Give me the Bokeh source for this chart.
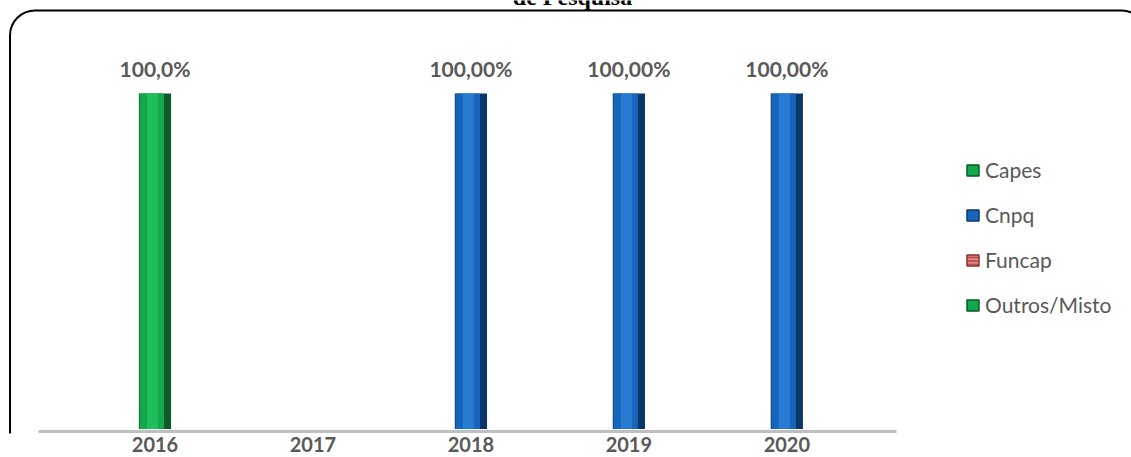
from bokeh.plotting import figure
from bokeh.models import (ColumnDataSource, Range1d, Legend, LegendItem,
                          Label, BoxAnnotation, FixedTicker)
from bokeh.transform import dodge
from bokeh.core.properties import value
from bokeh.embed import file_html
from bokeh.resources import INLINE

# ---- data ----
years = ["2016", "2017", "2018", "2019", "2020"]
capes = [100, 0, 0, 0, 0]
cnpq = [0, 0, 100, 100, 100]
funcap = [0, 0, 0, 0, 0]
outros = [0, 0, 0, 0, 0]
bar_labels = ["100,0%", "", "100,00%", "100,00%", "100,00%"]
series_names = ["Capes", "Cnpq", "Funcap", "Outros/Misto"]
title_text = "de Pesquisa"

xs = list(range(len(years)))
label_y = [max(a, b, c, d) for a, b, c, d in zip(capes, cnpq, funcap, outros)]
src = ColumnDataSource(dict(x=xs, year=years, capes=capes, cnpq=cnpq, funcap=funcap,
                            outros=outros, label=bar_labels, label_y=label_y))

FRAME_BOTTOM = 433  # canvas px

p = figure(width=1131, height=457,
           x_range=Range1d(-0.978, 6.182),
           y_range=Range1d(-1.34, 127.7),
           output_backend="svg", toolbar_location=None,
           min_border_left=0, min_border_right=0, min_border_top=0,
           min_border_bottom=457 - FRAME_BOTTOM)
p.outline_line_color = None
p.grid.visible = False
p.yaxis.visible = False
p.background_fill_color = "white"
p.border_fill_color = "white"

ax = p.xaxis[0]
ax.ticker = FixedTicker(ticks=xs)
ax.major_label_overrides = {i: y for i, y in zip(xs, years)}
ax.axis_line_color = None
ax.major_tick_line_color = None
ax.minor_tick_line_color = None
ax.major_tick_out = 0
ax.major_tick_in = 0
ax.major_label_standoff = 3
ax.major_label_text_font = "Lato"
ax.major_label_text_font_style = "bold"
ax.major_label_text_font_size = "20px"
ax.major_label_text_color = "#595959"

W = 0.204
styles = {
    "capes": ("#0B5A2A", "#13A84B", "#25C560"),
    "cnpq": ("#0A3769", "#1766BC", "#2D83DB"),
    "funcap": ("#8E3431", "#C0504D", "#D26E6B"),
    "outros": ("#0B5A2A", "#13A84B", "#25C560"),
}
for col in ["capes", "cnpq", "funcap", "outros"]:
    dark, mid, light = styles[col]
    p.vbar(x="x", top=col, bottom=0, width=W, source=src,
           fill_color=dark, line_color=None)
    p.vbar(x=dodge("x", -0.02), top=col, bottom=0,
           width=W * 0.76, source=src, fill_color=mid, line_color=None)
    p.vbar(x=dodge("x", -0.016), top=col, bottom=0,
           width=W * 0.34, source=src, fill_color=light, line_color=None, fill_alpha=0.75)

# legend-only swatch renderers (a single undrawable NaN row, so nothing appears in the plot)
swatch_src = ColumnDataSource(dict(x=[float("nan")], v=[float("nan")]))
leg_swatches = []
for col in ["capes", "cnpq", "funcap", "outros"]:
    dark, mid, light = styles[col]
    kw = {}
    if col == "funcap":
        kw = dict(hatch_pattern="horizontal_line", hatch_color="#E8A6A4",
                  hatch_scale=3.5, hatch_weight=1.2)
    r = p.vbar(x="x", top="v", bottom="v", width=W, source=swatch_src,
               fill_color=mid, line_color=dark, line_width=1.5, **kw)
    leg_swatches.append(r)

p.text(x="x", y="label_y", text="label", source=src,
       text_font=value("Lato"), text_font_style="bold", text_font_size="21px",
       text_color="#595959", text_align="center", text_baseline="alphabetic",
       y_offset=-25)

legend = Legend(items=[LegendItem(label=n, renderers=[r]) for n, r in zip(series_names, leg_swatches)],
                location=(965, FRAME_BOTTOM - 317), orientation="vertical",
                glyph_width=15, glyph_height=14, label_height=25, spacing=20,
                label_standoff=5, padding=0, margin=0,
                label_text_font="Lato", label_text_font_size="21px",
                label_text_color="#595959",
                border_line_color=None, background_fill_alpha=0)
p.add_layout(legend)


def canvas_box(left, right, top, bottom, **kw):
    try:
        return BoxAnnotation(left=left, right=right, top=top, bottom=bottom,
                             left_units="canvas", right_units="canvas",
                             top_units="canvas", bottom_units="canvas", **kw)
    except Exception:
        return BoxAnnotation(left=left, right=right,
                             top=FRAME_BOTTOM - top, bottom=FRAME_BOTTOM - bottom,
                             left_units="screen", right_units="screen",
                             top_units="screen", bottom_units="screen", **kw)


# gray category baseline
p.add_layout(canvas_box(38, 896, 429.5, 432.5, fill_color="#BFBFBF", fill_alpha=1,
                        line_color=None, level="underlay"))
# rounded chart-area border (runs off the right and bottom edges)
p.add_layout(canvas_box(9.5, 1146, 10, 465, fill_alpha=0, line_color="black",
                        line_alpha=1, line_width=2, border_radius=25, level="overlay"))

try:
    ttl = Label(x=572, y=-4, x_units="canvas", y_units="canvas", text=title_text,
                text_align="center", text_baseline="alphabetic",
                text_font="Liberation Serif", text_font_style="bold",
                text_font_size="24px", text_color="black")
except Exception:
    ttl = Label(x=572, y=FRAME_BOTTOM + 4, x_units="screen", y_units="screen", text=title_text,
                text_align="center", text_baseline="alphabetic",
                text_font="Liberation Serif", text_font_style="bold",
                text_font_size="24px", text_color="black")
p.add_layout(ttl)

open("out.html", "w").write(file_html(p, INLINE))
